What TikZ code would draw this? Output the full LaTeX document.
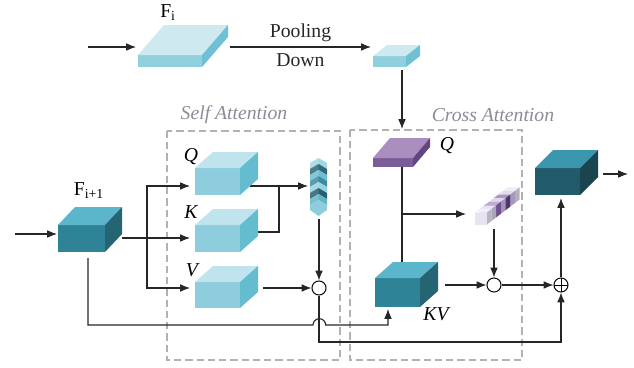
\documentclass[tikz,border=0pt]{standalone}
\usepackage{fontspec}
\setmainfont{Liberation Serif}
\usepackage{tikz}
\usetikzlibrary{arrows,arrows.meta}

% couleurs des blocs : -f face avant, -t dessus, -s cote
\definecolor{lb-f}{RGB}{141,205,221}
\definecolor{lb-t}{RGB}{192,228,237}
\definecolor{lb-s}{RGB}{100,188,207}
\definecolor{sl-f}{RGB}{143,207,222}
\definecolor{sl-t}{RGB}{206,233,240}
\definecolor{sl-s}{RGB}{112,192,211}
\definecolor{tl-f}{RGB}{46,132,150}
\definecolor{tl-t}{RGB}{92,182,203}
\definecolor{tl-s}{RGB}{36,100,115}
\definecolor{dk-f}{RGB}{33,90,104}
\definecolor{dk-t}{RGB}{58,150,172}
\definecolor{dk-s}{RGB}{26,68,80}
\definecolor{pu-f}{RGB}{122,92,152}
\definecolor{pu-t}{RGB}{170,142,192}
\definecolor{pu-s}{RGB}{98,70,128}
\definecolor{zonegray}{RGB}{140,138,150}

\newcommand{\cuboid}[7] % {x}{y}{w}{h}{dx}{dy}{couleur} coin haut gauche de la face avant
{
	\fill[#7-f] (#1,#2) rectangle ++(#3,#4);
	\fill[#7-t] (#1,#2) -- ++(#5,-#6) -- ++(#3,0) -- ++(-#5,#6) -- cycle;
	\fill[#7-s] (#1+#3,#2) -- ++(#5,-#6) -- ++(0,#4) -- ++(-#5,#6) -- cycle;
}

\begin{document}
\begin{tikzpicture}[x=0.025cm, y=-0.025cm,
	flow/.style={-{Latex[length=7pt,width=5.5pt]}, line width=0.8pt, black!85},
	link/.style={line width=0.8pt, black!85},
	zone/.style={dash pattern=on 5pt off 3pt, line width=0.9pt, gray!60},
	lbl/.style={font=\fontsize{14}{16}\selectfont, inner sep=0pt},
	zonetitle/.style={lbl, font=\fontsize{14}{16}\selectfont\itshape, text=zonegray},
	op/.style={circle, draw, line width=0.7pt, minimum size=10pt, inner sep=0pt, fill=white},
	opdot/.style={op, path picture={\fill (path picture bounding box.center) circle (1.2pt);}},
	opplus/.style={op, path picture={
		\draw[line width=0.6pt] (path picture bounding box.north) -- (path picture bounding box.south)
			(path picture bounding box.west) -- (path picture bounding box.east);}}
	]
	\useasboundingbox (0,0) rectangle (634,368);

	%	\foreach \i in {0,50,...,600} {
	%		\draw [very thin,gray] (\i,0) -- (\i,368);
	%	}

	% points d'accroche
	\coordinate (inA) at (88,47);
	\coordinate (fiL) at (136,47);
	\coordinate (fiR) at (230,47);
	\coordinate (psL) at (371,47);
	\coordinate (psB) at (402,70);
	\coordinate (cqT) at (402,129);
	\coordinate (inB) at (15,234);
	\coordinate (fbL) at (57,234);
	\coordinate (fbR) at (122,238);
	\coordinate (fbB) at (88,258);
	\coordinate (brA) at (147,238);
	\coordinate (qL) at (190,186);
	\coordinate (kL) at (190,238);
	\coordinate (vL) at (190,288);
	\coordinate (qR) at (250,186);
	\coordinate (kR) at (258,232);
	\coordinate (qJ) at (279,186);
	\coordinate (vR) at (263,288);
	\coordinate (amL) at (308,186);
	\coordinate (amB) at (319,219);
	\coordinate (hopL) at (313,325);
	\coordinate (botR) at (561,342);
	\coordinate (cqB) at (402,167);
	\coordinate (kvT) at (402,262);
	\coordinate (cqJ) at (402,214);
	\coordinate (pmL) at (466,214);
	\coordinate (pmB) at (494,229);
	\coordinate (kvR) at (445,285);
	\coordinate (kvB) at (388,309);
	\coordinate (outB) at (561,198);
	\coordinate (outR) at (603,174);
	\coordinate (outE) at (628,174);

	% zones en pointilles
	\draw[zone] (167,131) rectangle (340,360);
	\draw[zone] (350,130) rectangle (522,360);
	\node[zonetitle] (saTitle) at (234,115) {Self Attention};
	\node[zonetitle] (caTitle) at (493,115) {Cross Attention};

	\node[opdot] (dot1) at (319,288) {};
	\node[opdot] (dot2) at (494,285) {};
	\node[opplus] (plus) at (561,285) {};

	% liaisons
	\draw[flow] (inA) -- (fiL);
	\draw[flow] (fiR) -- (psL) node[lbl, midway, above=3.5pt] (pool) {Pooling} node[lbl, midway, below=4.5pt] (down) {Down};
	\draw[flow] (psB) -- (cqT);
	\draw[flow] (inB) -- (fbL);
	\draw[link] (fbR) -- (brA);
	\draw[flow] (brA) |- (qL);
	\draw[flow] (brA) -- (kL);
	\draw[flow] (brA) |- (vL);
	\draw[flow] (qR) -- (amL);
	\draw[link] (kR) -| (qJ);
	\draw[flow] (vR) -- (dot1);
	\draw[flow] (amB) -- (dot1);
	\draw[flow] (dot1) |- (botR) -- (plus);
	\draw[flow] (fbB) |- (hopL) arc[start angle=180, end angle=0, radius=4.5pt] -| (kvB);
	\draw[link] (cqB) -- (kvT);
	\draw[flow] (cqJ) -- (pmL);
	\draw[flow] (pmB) -- (dot2);
	\draw[flow] (kvR) -- (dot2);
	\draw[flow] (dot2) -- (plus);
	\draw[flow] (plus) -- (outB);
	\draw[flow] (outR) -- (outE);

	% blocs
	\cuboid{138}{55}{64}{12}{26}{30}{sl}
	\cuboid{373}{56}{33}{11}{14}{11}{sl}
	\cuboid{58}{225}{47}{27}{17}{18}{tl}
	\cuboid{195}{168}{45}{27}{18}{16}{lb}
	\cuboid{195}{225}{45}{27}{18}{16}{lb}
	\cuboid{195}{282}{45}{26}{18}{16}{lb}
	\cuboid{373}{158}{40}{9}{17}{20}{pu}
	\cuboid{375}{278}{45}{29}{18}{16}{tl}
	\cuboid{535}{168}{45}{27}{18}{18}{dk}

	% carte d'attention (chevrons)
	\foreach \r/\g/\b [count=\k from 0] in {160/215/228,45/105/120,110/190/208,60/140/160,150/210/225,40/95/110,100/180/200} {
		\definecolor{chv}{RGB}{\r,\g,\b}
		\fill[chv] (310,158+6*\k+5) -- (318.5,158+6*\k) -- (327,158+6*\k+5) -- (327,158+6*\k+11) -- (318.5,158+6*\k+6) -- (310,158+6*\k+11) -- cycle;
		\fill[white, opacity=0.15] (310,158+6*\k+5) -- (318.5,158+6*\k) -- (318.5,158+6*\k+6) -- (310,158+6*\k+11) -- cycle;
	}
	\fill[lb-f] (310,205) -- (318.5,200) -- (327,205) -- (327,210) -- (318.5,216) -- (310,210) -- cycle;

	% carte croisee (violet), de l'arriere vers l'avant
	\foreach \r/\g/\b [count=\k from 0] in {226/218/240,205/192/230,100/65/140,200/185/225,140/100/180,215/205/235,232/226/242} {
		\definecolor{pcv}{RGB}{\r,\g,\b}
		\fill[pcv!55!white] (503-4.7*\k,191+3.6*\k) -- ++(4.7,-3.6) -- ++(12,0) -- ++(-4.7,3.6) -- cycle;
		\fill[pcv!80!black] (515-4.7*\k,191+3.6*\k) -- ++(4.7,-3.6) -- ++(0,12) -- ++(-4.7,3.6) -- cycle;
		\fill[pcv] (503-4.7*\k,191+3.6*\k) rectangle ++(12,12);
	}

	% etiquettes
	\node[lbl] (fiLab) at (168,13) {F\textsubscript{i}};
	\node[lbl] (fbLab) at (89,191) {F\textsubscript{i+1}};
	\node[lbl, font=\fontsize{14}{16}\selectfont\itshape] (qLab) at (191,157) {Q};
	\node[lbl, font=\fontsize{14}{16}\selectfont\itshape] (kLab) at (191,212) {K};
	\node[lbl, font=\fontsize{14}{16}\selectfont\itshape] (vLab) at (192,270) {V};
	\node[lbl, font=\fontsize{14}{16}\selectfont\itshape] (cqLab) at (447,146) {Q};
	\node[lbl, font=\fontsize{14}{16}\selectfont\itshape] (kvLab) at (436,314) {KV};
\end{tikzpicture}
\end{document}
